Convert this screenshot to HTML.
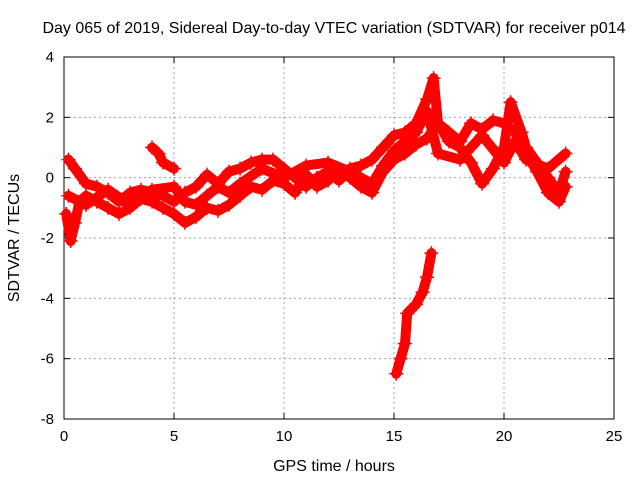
<!DOCTYPE html>
<html><head><meta charset="utf-8"><style>
body{margin:0;background:#fff;}
svg{display:block;font-family:"Liberation Sans",sans-serif;}
</style></head><body>
<svg id="chart" width="640" height="480">
<rect width="640" height="480" fill="#fff"/>
<text x="334" y="33" font-size="16" text-anchor="middle">Day 065 of 2019, Sidereal Day-to-day VTEC variation (SDTVAR) for receiver p014</text>
<g id="grid"></g>
<g id="axes"></g>
<g id="series"></g>
<text x="334" y="471" font-size="16" text-anchor="middle">GPS time / hours</text>
<text transform="translate(19,238) rotate(-90)" font-size="16" text-anchor="middle">SDTVAR / TECUs</text>
</svg>
<script>
const xTicks=[0,5,10,15,20,25];
const yTicks=[-8,-6,-4,-2,0,2,4];
const trackA_t=[0.2,0.5,1,1.5,2,2.5,3,3.5,4,4.5,5,5.5,6,6.5,7,7.5,8,8.5,9,9.5,10,10.5,11,11.5,12,12.5,13,13.5,14,14.5,15,15.5,16,16.5,16.8,17,17.5,18,18.5,19,19.5,20,20.3,20.8,21,21.5,22,22.5,22.8];
const trackA_v=[0.6,0.3,-0.2,-0.3,-0.5,-0.8,-0.5,-0.4,-0.5,-0.6,-0.8,-0.5,-0.3,0.1,-0.2,0.2,0.3,0.5,0.6,0.6,0.3,0,-0.3,0,0.2,-0.1,0.3,0.4,0.6,1.0,1.4,1.5,1.8,2.6,3.3,1.8,1.2,1.0,0.5,-0.2,0.3,1.0,2.5,1.5,1.0,0.5,0,-0.5,0.2];
const trackB_t=[0.1,0.3,0.5,0.7,1,1.5,2,2.5,3,3.5,4,4.5,5,5.5,6,6.5,7,7.5,8,8.5,9,9.5,10,10.5,11,11.5,12,12.5,13,13.5,14,14.5,15,15.5,16,16.5,17,17.5,18,18.5,19,19.5,20,20.5,21,21.5,22,22.5,22.8];
const trackB_v=[-1.2,-2.1,-1.5,-0.8,-0.6,-0.8,-1.0,-1.2,-1.0,-0.7,-0.8,-1.0,-1.2,-1.5,-1.3,-1.0,-1.1,-0.9,-0.6,-0.3,-0.4,-0.1,-0.2,-0.5,0.1,-0.3,-0.1,0.3,0,-0.3,-0.5,0.2,0.6,0.8,1.1,1.3,1.8,1.5,1.2,1.8,1.6,1.9,1.8,1.5,0.8,0.2,-0.5,-0.8,-0.3];
const trackC_t=[0.2,1,2,3,4,5,5.5,6,6.5,7,7.5,8,9,10,11,12,13,14,14.5,15,15.5,16,16.5,17,18,19,20,20.5,21,22,22.8];
const trackC_v=[-0.6,-0.9,-0.4,-0.9,-0.4,-0.3,-0.8,-0.9,-0.6,-0.3,-0.5,-0.2,0.3,0,0.4,0.5,0.2,-0.2,0.4,0.9,1.2,1.5,2.2,0.8,0.6,1.4,0.5,1.2,0.6,0.3,0.8];
const trackD_t=[4,4.3,4.5,5];
const trackD_v=[1.0,0.8,0.5,0.3];
const trackE_t=[15.1,15.3,15.5,15.6,16,16.3,16.5,16.7];
const trackE_v=[-6.5,-6.0,-5.5,-4.5,-4.2,-3.8,-3.3,-2.5];
const tracks=[[trackA_t,trackA_v],[trackB_t,trackB_v],[trackC_t,trackC_v],[trackD_t,trackD_v],[trackE_t,trackE_v]];

const X0=64,X1=614,Y0=419,Y1=57;
const xs=t=>X0+(t-0)/(25-0)*(X1-X0);
const ys=v=>Y0-(v+8)/12*(Y0-Y1);
const NS="http://www.w3.org/2000/svg";
function mk(tag,attrs,parent){const e=document.createElementNS(NS,tag);for(const k in attrs)e.setAttribute(k,attrs[k]);parent.appendChild(e);return e;}
const grid=document.getElementById('grid'),axes=document.getElementById('axes'),ser=document.getElementById('series');
xTicks.forEach(t=>{
  const x=xs(t);
  if(t>0&&t<25){const g=mk('line',{x1:x,x2:x,y1:Y1,y2:Y0,stroke:'#a0a0a0','stroke-dasharray':'2,3'},grid);
  
  }
  mk('line',{x1:x,x2:x,y1:Y0,y2:Y0-6,stroke:'#000'},axes);
  mk('line',{x1:x,x2:x,y1:Y1,y2:Y1+6,stroke:'#000'},axes);
  const l=mk('text',{x:x,y:Y0+22,'font-size':15,'text-anchor':'middle'},axes);l.textContent=t;
  
  
});
yTicks.forEach(v=>{
  const y=ys(v);
  if(v>-8&&v<4){const g=mk('line',{x1:X0,x2:X1,y1:y,y2:y,stroke:'#a0a0a0','stroke-dasharray':'2,3'},grid);
  
  }
  mk('line',{x1:X0,x2:X0+6,y1:y,y2:y,stroke:'#000'},axes);
  mk('line',{x1:X1,x2:X1-6,y1:y,y2:y,stroke:'#000'},axes);
  const l=mk('text',{x:X0-10,y:y+5,'font-size':15,'text-anchor':'end'},axes);l.textContent=v;
  
  
});
const frame=mk('rect',{x:X0,y:Y1,width:X1-X0,height:Y0-Y1,fill:'none',stroke:'#000'},axes);


tracks.forEach(([T,V],i)=>{
  const pts=T.map((t,j)=>xs(t)+','+ys(V[j])).join(' ');
  const p=mk('polyline',{points:pts,fill:'none',stroke:'#f00','stroke-width':10,'stroke-linejoin':'round','stroke-linecap':'round'},ser);
  
  
  T.forEach((t,j)=>{
    const x=xs(t),y=ys(V[j]);
    const m=mk('path',{d:`M${x-7},${y}H${x+7}M${x},${y-7}V${y+7}`,stroke:'#f00','stroke-width':1.5},ser);
    
    
  });
});
</script>
</body></html>
